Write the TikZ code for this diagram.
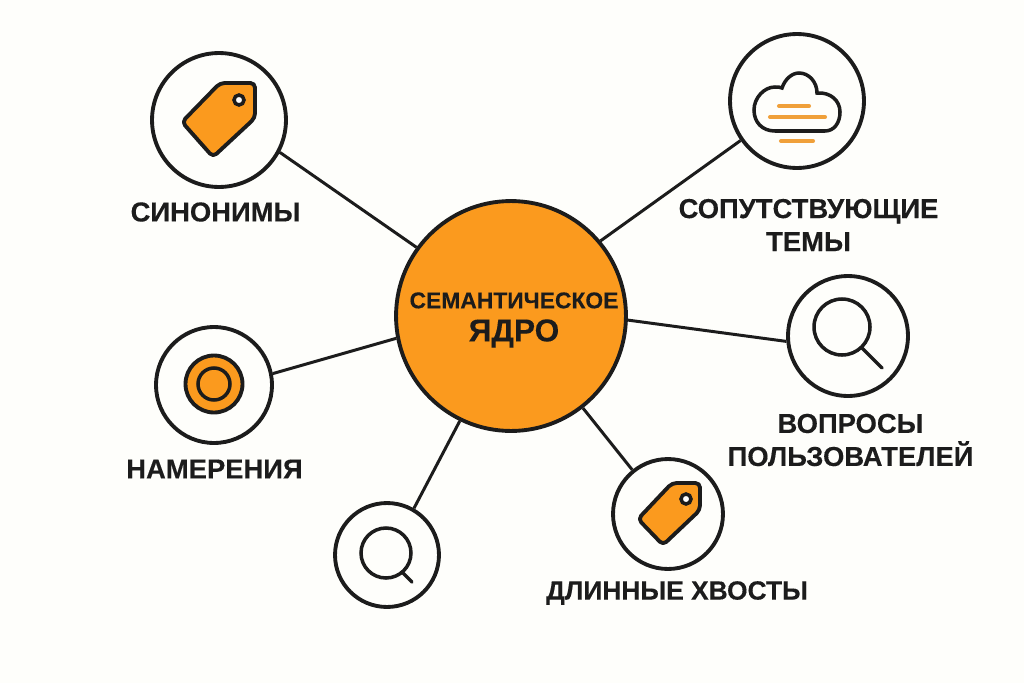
\documentclass[tikz,border=0pt]{standalone}
\usepackage{fontspec}
\setmainfont{Liberation Sans}[BoldFeatures={FakeBold=0.25}]
\definecolor{bgpaper}{HTML}{FEFEFB}
\definecolor{coreorange}{HTML}{FB9A1E}
\definecolor{inkdark}{HTML}{1C1C1C}
\definecolor{linesorange}{HTML}{F0A03A}
\tikzset{
	hubcircle/.style={circle,draw=inkdark,line width=2.2pt,fill=coreorange,inner sep=0pt,minimum size=#1*0.04cm},
	topiccircle/.style={circle,draw=inkdark,line width=2.2pt,fill=bgpaper,inner sep=0pt,minimum size=#1*0.04cm},
	topiclabel/.style={text=inkdark,font=\bfseries\fontsize{15.6}{18.8}\selectfont,align=center},
	link/.style={draw=inkdark,line width=1.7pt},
	iconline/.style={draw=inkdark,line width=2pt,line cap=round},
	tagshape/.style={draw=inkdark,line width=2.2pt,fill=coreorange,rounded corners=2.6pt,line join=round},
	fogline/.style={draw=linesorange,line width=2.3pt,line cap=round}
}
\begin{document}
\begin{tikzpicture}[x=0.02cm,y=-0.02cm]
	\useasboundingbox[fill=bgpaper] (0,0) rectangle (1024,683);
	%The circle in the middle
	\node [hubcircle=115] (core) at (511,316) {};
	%Outer circles
	\node [topiccircle=67] (synonyms) at (219,120) {};
	\node [topiccircle=67] (topics) at (797,101) {};
	\node [topiccircle=60] (questions) at (848,336) {};
	\node [topiccircle=58] (intents) at (214,385) {};
	\node [topiccircle=52] (search) at (387,555) {};
	\node [topiccircle=55] (tails) at (668,514) {};
	%Connectors
	\draw [link] (core.144) -- (synonyms.-28.5);
	\draw [link] (core.40.6) -- (topics.215);
	\draw [link] (core.-2) -- (questions.185);
	\draw [link] (core.191) -- (intents.11);
	\draw [link] (core.-116) -- (search.60);
	\draw [link] (core.-52.6) -- (tails.129);
	%Tag top left
	\draw [tagshape] (220,83) -- (255,83) -- (255,118) -- (213,157) -- (182,122) -- cycle;
	\draw [iconline,fill=white] (239,100) circle (5);
	%Tag at the bottom
	\draw [tagshape] (672,483) -- (700,483) -- (700,510) -- (663,545) -- (638,519) -- cycle;
	\draw [iconline,fill=white] (686,499) circle (5);
	%Cloud
	\draw [iconline] (775,131) .. controls (762,131) and (754,122) .. (754,110)
		.. controls (754,98) and (764,87) .. (775,87)
		.. controls (778,87) and (780,87) .. (782,88)
		.. controls (785,79) and (792,73) .. (799,73)
		.. controls (809,73) and (817,82) .. (817,93)
		.. controls (831,92) and (840,101) .. (840,112)
		.. controls (840,123) and (834,131) .. (825,131) -- cycle;
	\draw [fogline] (779,106) -- (809,106);
	\draw [fogline] (770,117) -- (825,117);
	\draw [fogline] (781,141) -- (813,141);
	%Target
	\node [circle,draw=inkdark,line width=2.2pt,fill=coreorange,minimum size=1.14cm,inner sep=0pt] (ringouter) at (214,384) {};
	\node [circle,draw=inkdark,line width=2pt,minimum size=0.64cm,inner sep=0pt] (ringinner) at (214,384) {};
	%Magnifier right
	\draw [iconline] (842,327) circle (28);
	\draw [iconline] (862,348) -- (882,368);
	%Magnifier bottom
	\draw [iconline] (386,553) circle (25);
	\draw [iconline] (402,572) -- (412,582);
	%Labels
	\node [topiclabel] (coretext) at (514,320) {\fontsize{13}{18.8}\selectfont СЕМАНТИЧЕСКОЕ\\\fontsize{18}{18.8}\selectfont ЯДРО};
	\node [topiclabel] (synonymstext) at (215.5,212) {СИНОНИМЫ};
	\node [topiclabel] (topicstext) at (808.5,225) {СОПУТСТВУЮЩИЕ\\ТЕМЫ};
	\node [topiclabel] (questionstext) at (850.5,440) {ВОПРОСЫ\\ПОЛЬЗОВАТЕЛЕЙ};
	\node [topiclabel] (intentstext) at (214.5,469) {НАМЕРЕНИЯ};
	\node [topiclabel,font=\bfseries\fontsize{15}{18.8}\selectfont] (tailstext) at (677,593) {ДЛИННЫЕ ХВОСТЫ};
\end{tikzpicture}
\end{document}
